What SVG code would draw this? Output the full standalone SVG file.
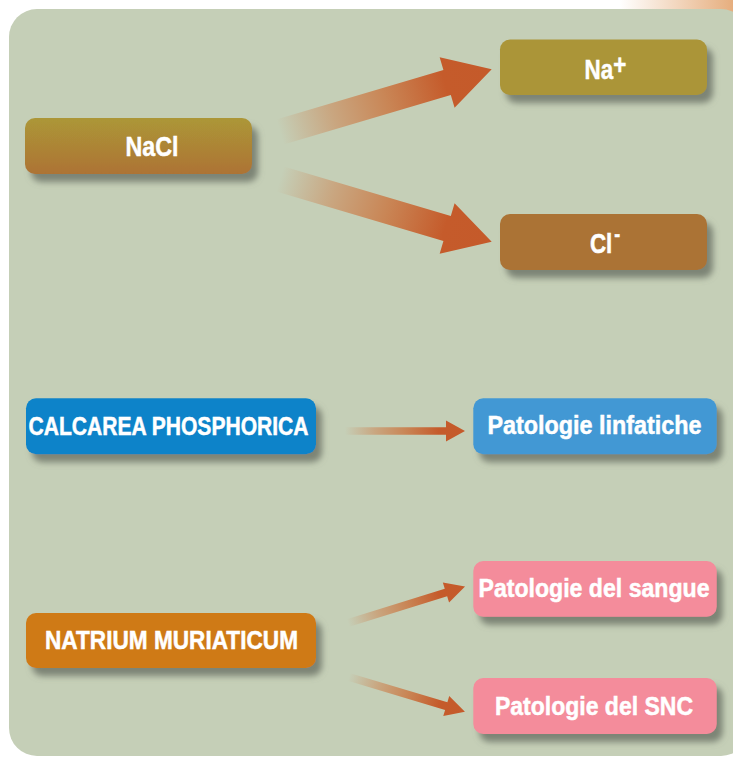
<svg xmlns="http://www.w3.org/2000/svg" width="733" height="759" viewBox="0 0 733 759">
  <style>
    .lbl { font-family: "Liberation Sans Narrow", "Liberation Sans", Arial, sans-serif; font-weight: bold; fill: #ffffff; stroke: #ffffff; stroke-width: 0.5px; }
    .big { font-size: 28px; }
    .sm { font-size: 25.5px; }
    .box { filter: url(#shadow); }
  </style>
  <defs>
    <filter id="shadow" x="-10%" y="-20%" width="130%" height="170%">
      <feDropShadow dx="6" dy="8" stdDeviation="3" flood-color="#6f7769" flood-opacity="0.85"/>
    </filter>
    <linearGradient id="corner" x1="0" y1="0" x2="1" y2="0">
      <stop offset="0" stop-color="#ffffff"/>
      <stop offset="1" stop-color="#e6ae7e"/>
    </linearGradient>
    <linearGradient id="naclGrad" x1="0" y1="0" x2="0" y2="1">
      <stop offset="0" stop-color="#ac9737"/>
      <stop offset="1" stop-color="#ad7335"/>
    </linearGradient>
    <linearGradient id="arrowGrad" x1="0" y1="0" x2="1" y2="0">
      <stop offset="0" stop-color="#c9a47f" stop-opacity="0"/>
      <stop offset="0.25" stop-color="#c9a680" stop-opacity="1"/>
      <stop offset="0.5" stop-color="#c98656"/>
      <stop offset="0.78" stop-color="#c55b2b"/>
      <stop offset="1" stop-color="#c55a2a"/>
    </linearGradient>
  </defs>

  <!-- background -->
  <rect x="0" y="0" width="733" height="759" fill="#ffffff"/>
  <rect x="620" y="0" width="113" height="40" fill="url(#corner)"/>
  <rect x="9" y="9" width="740" height="747" rx="28" ry="28" fill="#c5cfb7"/>

  <!-- connectors -->
  <g id="connectors">
    <polygon transform="translate(280,132) rotate(-16.5)" fill="url(#arrowGrad)"
      points="0,-13 174.3,-13 174.3,-26.3 220.8,0 174.3,26.3 174.3,13 0,13"/>
    <polygon transform="translate(280,179) rotate(16.5)" fill="url(#arrowGrad)"
      points="0,-13 174.3,-13 174.3,-26.3 220.8,0 174.3,26.3 174.3,13 0,13"/>
    <polygon transform="translate(345,431)" fill="url(#arrowGrad)"
      points="0,-3.7 101,-3.7 101,-10.5 120,0 101,10.5 101,3.7 0,3.7"/>
    <polygon transform="translate(348,623) rotate(-17.3)" fill="url(#arrowGrad)"
      points="0,-4 102.6,-4 102.6,-10.5 122.6,0 102.6,10.5 102.6,4 0,4"/>
    <polygon transform="translate(349,677) rotate(16.65)" fill="url(#arrowGrad)"
      points="0,-4 101.5,-4 101.5,-10.4 121,0 101.5,10.4 101.5,4 0,4"/>
  </g>

  <!-- nodes -->
  <g id="nacl">
    <rect class="box" x="25" y="118" width="227" height="56" rx="10" fill="url(#naclGrad)"/>
    <text class="lbl big" x="125.5" y="156" textLength="53" lengthAdjust="spacingAndGlyphs">NaCl</text>
  </g>
  <g id="na">
    <rect class="box" x="500" y="39.5" width="207" height="55.5" rx="10" fill="#ab9538"/>
    <text class="lbl big" transform="translate(584.5,79.3) scale(0.8,1)" x="0" y="0">Na<tspan dy="-5.5">+</tspan></text>
  </g>
  <g id="cl">
    <rect class="box" x="500" y="214" width="207" height="56" rx="10" fill="#ab7335"/>
    <text class="lbl big" transform="translate(589.9,252.7) scale(0.8,1)" x="0" y="0">Cl<tspan dx="2.5" dy="-11.4" style="font-size:22px">-</tspan></text>
  </g>
  <g id="calcarea">
    <rect class="box" x="26" y="398.3" width="290" height="56" rx="10" fill="#0b83c9"/>
    <text class="lbl sm" x="28.5" y="434.5" textLength="280" lengthAdjust="spacingAndGlyphs">CALCAREA PHOSPHORICA</text>
  </g>
  <g id="linfatiche">
    <rect class="box" x="473.3" y="398.3" width="243.4" height="56" rx="10" fill="#4398d4"/>
    <text class="lbl sm" x="487.5" y="433.5" textLength="214" lengthAdjust="spacingAndGlyphs">Patologie linfatiche</text>
  </g>
  <g id="natrium">
    <rect class="box" x="26" y="613" width="290" height="55" rx="10" fill="#cf7a17"/>
    <text class="lbl sm" x="45" y="648.5" textLength="253" lengthAdjust="spacingAndGlyphs">NATRIUM MURIATICUM</text>
  </g>
  <g id="sangue">
    <rect class="box" x="473.3" y="561" width="243.4" height="55.7" rx="10" fill="#f48c9b"/>
    <text class="lbl sm" x="478.5" y="596.5" textLength="231" lengthAdjust="spacingAndGlyphs">Patologie del sangue</text>
  </g>
  <g id="snc">
    <rect class="box" x="473.3" y="678" width="243.4" height="56" rx="10" fill="#f48c9b"/>
    <text class="lbl sm" x="495" y="714.5" textLength="198" lengthAdjust="spacingAndGlyphs">Patologie del SNC</text>
  </g>
</svg>
